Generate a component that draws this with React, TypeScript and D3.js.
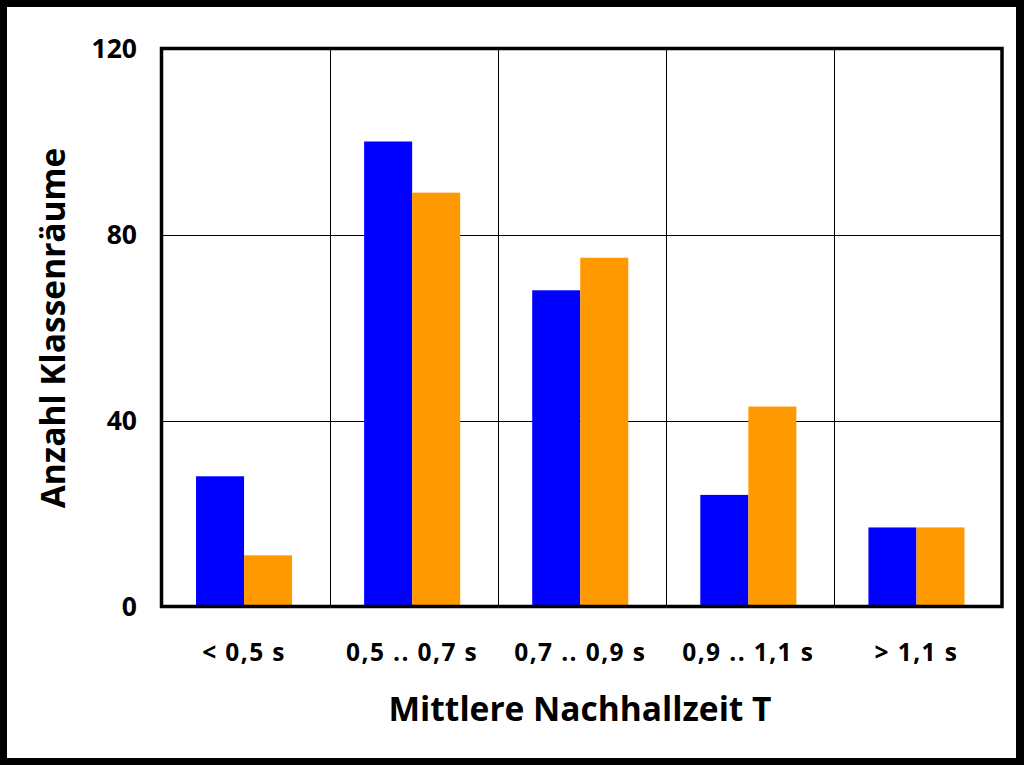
import React from "react";
import * as d3 from "d3";

const categories = ["< 0,5 s", "0,5 .. 0,7 s", "0,7 .. 0,9 s", "0,9 .. 1,1 s", "> 1,1 s"];
const seriesBlue = [28, 100, 68, 24, 17];
const seriesOrange = [11, 89, 75, 43, 17];
const yTicks = [0, 40, 80, 120];
const seriesColors = ["#0000FF", "#FF9900"];
const yTitle = "Anzahl Klassenräume";
const xTitle = "Mittlere Nachhallzeit T";

const W = 1024;
const H = 765;
const plot = { left: 161.5, right: 1002, top: 48.5, bottom: 606.5 };
const FONT = "'Open Sans', 'DejaVu Sans', sans-serif";

export default function App() {
  const x = d3.scaleBand<string>().domain(categories).range([plot.left, plot.right]).paddingInner(0).paddingOuter(0);
  const y = d3.scaleLinear().domain([0, 120]).range([plot.bottom, plot.top]);
  const inner = d3.scaleBand<string>().domain(["a", "b"]).range([0, x.bandwidth()]).paddingOuter(0.75).paddingInner(0);
  const series = [seriesBlue, seriesOrange];
  const keys = ["a", "b"];

  return (
    <svg width={W} height={H} style={{ position: "absolute", left: 0, top: 0, display: "block" }}>
      <rect x={0} y={0} width={W} height={H} fill="#000" />
      <rect x={7} y={7} width={1016 - 7} height={758 - 7} fill="#fff" />
      {yTicks.filter(t => t > 0 && t < 120).map(t => (
        <line key={"g" + t} x1={plot.left} x2={plot.right} y1={Math.round(y(t)) + 0.5} y2={Math.round(y(t)) + 0.5} stroke="#000" strokeWidth={1} />
      ))}
      {categories.slice(1).map(c => (
        <line key={"v" + c} x1={Math.round(x(c)!) + 0.5} x2={Math.round(x(c)!) + 0.5} y1={plot.top} y2={plot.bottom} stroke="#000" strokeWidth={1} />
      ))}
      {categories.map((c, i) =>
        series.map((s, j) => (
          <rect
            key={c + j}
            x={x(c)! + inner(keys[j])! - 1.5}
            y={y(s[i])}
            width={inner.bandwidth()}
            height={plot.bottom - y(s[i])}
            fill={seriesColors[j]}
          />
        ))
      )}
      <rect x={plot.left} y={plot.top} width={plot.right - plot.left} height={plot.bottom - plot.top} fill="none" stroke="#000" strokeWidth={3.5} />
      {yTicks.map(t => (
        <text key={"t" + t} x={137} y={y(t)} dy="0.35em" textAnchor="end" fontFamily={FONT} fontWeight="bold" fontSize={26.5} fill="#000">
          {t}
        </text>
      ))}
      {categories.map(c => (
        <text key={"c" + c} x={x(c)! + x.bandwidth() / 2 - 1.5} y={661} textAnchor="middle" fontFamily={FONT} fontWeight="bold" fontSize={24.5} letterSpacing={1.4} fill="#000">
          {c}
        </text>
      ))}
      <text x={580} y={721} textAnchor="middle" fontFamily={FONT} fontWeight="bold" fontSize={33.5} fill="#000">
        {xTitle}
      </text>
      <text transform={`translate(65,328) rotate(-90)`} textAnchor="middle" fontFamily={FONT} fontWeight="bold" fontSize={33.5} fill="#000">
        {yTitle}
      </text>
    </svg>
  );
}
